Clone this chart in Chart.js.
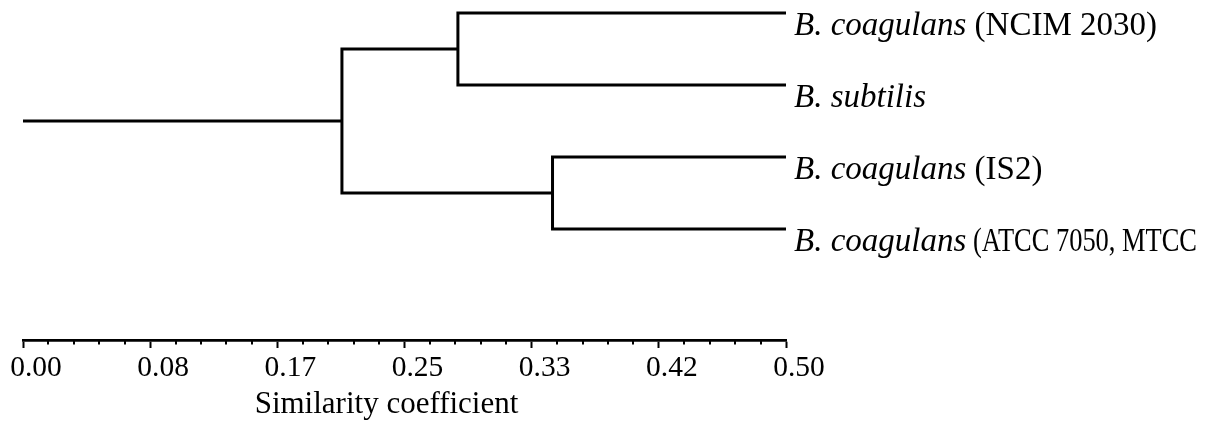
<!DOCTYPE html>
<html><head><meta charset="utf-8">
<script src="https://cdn.jsdelivr.net/npm/chart.js@4/dist/chart.umd.min.js"></script>
<style>html,body{margin:0;padding:0;background:#fff}#wrap{width:1218px;height:425px;position:relative}</style>
</head><body><div id="wrap"><canvas id="c"></canvas></div>
<script>
// ---- data ----
const leafItalic = ['B. coagulans', 'B. subtilis', 'B. coagulans', 'B. coagulans'];
const leafRest = [' (NCIM 2030)', '', ' (IS2)', ' (ATCC 7050, MTCC'];
const leafRows = [4, 3, 2, 1];            // top to bottom
const leafDistance = 0.5;                 // leaves end at the axis max
const mergePairs = [[0, 1], [2, 3], [4, 5]]; // nodes 0-3 leaves, 4.. merges
const mergeLevels = [0.285, 0.347, 0.209];
const rootStart = 0.0;
const tickLabels = ['0.00', '0.08', '0.17', '0.25', '0.33', '0.42', '0.50'];
const axisTitle = 'Similarity coefficient';
const minorPerMajor = 5;

// ---- build segments ----
const nodes = leafRows.map(r => ({x: leafDistance, y: r}));
const datasets = [];
const lineStyle = {showLine: true, borderColor: '#000', borderWidth: 3, pointRadius: 0,
  pointHoverRadius: 0, fill: false, tension: 0, clip: false, borderJoinStyle: 'miter', borderCapStyle: 'butt'};
mergePairs.forEach((p, k) => {
  const a = nodes[p[0]], b = nodes[p[1]], lv = mergeLevels[k];
  nodes.push({x: lv, y: (a.y + b.y) / 2});
  datasets.push(Object.assign({data: [{x: a.x, y: a.y}, {x: lv, y: a.y}, {x: lv, y: b.y}, {x: b.x, y: b.y}]}, lineStyle));
});
const root = nodes[nodes.length - 1];
datasets.push(Object.assign({data: [{x: rootStart, y: root.y}, {x: root.x, y: root.y}]}, lineStyle));

const axMax = 0.5, nMajor = tickLabels.length - 1;
const tickVals = [];
for (let i = 0; i <= nMajor * minorPerMajor; i++) tickVals.push(axMax * i / (nMajor * minorPerMajor));

const serif = "'Liberation Serif', 'Times New Roman', serif";

const extras = {
  id: 'extras',
  afterDraw(chart) {
    const {ctx, scales: {x, y}} = chart;
    ctx.save();
    ctx.fillStyle = '#000';
    ctx.textBaseline = 'alphabetic';
    const textRight = chart.width - 21;
    leafRows.forEach((r, i) => {
      const px = x.getPixelForValue(leafDistance) + 8;
      const py = y.getPixelForValue(r) + 22;
      ctx.font = 'italic 33px ' + serif;
      ctx.fillText(leafItalic[i], px, py);
      const w = ctx.measureText(leafItalic[i]).width;
      ctx.font = '33px ' + serif;
      if (leafRest[i]) ctx.fillText(leafRest[i], px + w, py, textRight - (px + w));
    });
    // axis title
    ctx.font = '31px ' + serif;
    ctx.textAlign = 'center';
    ctx.fillText(axisTitle, (x.left + x.right) / 2 - 18, 413);
    // minor ticks
    const yb = chart.chartArea.bottom;
    ctx.strokeStyle = '#000';
    ctx.lineWidth = 2;
    tickVals.forEach((v, i) => {
      if (i % minorPerMajor === 0) return;
      const px = Math.round(x.getPixelForValue(v));
      ctx.beginPath(); ctx.moveTo(px, yb); ctx.lineTo(px, yb + 4.5); ctx.stroke();
    });
    ctx.restore();
  }
};

new Chart(document.getElementById('c'), {
  type: 'scatter',
  data: {datasets},
  options: {
    responsive: true, maintainAspectRatio: false, animation: false,
    layout: {padding: {left: 23, right: 432, top: 0, bottom: 0}},
    plugins: {legend: {display: false}, tooltip: {enabled: false}},
    events: [],
    scales: {
      x: {
        type: 'linear', position: 'bottom', min: 0, max: axMax,
        afterBuildTicks: s => { s.ticks = tickVals.map(v => ({value: v})); },
        afterFit: s => { s.paddingLeft = 0; s.paddingRight = 0; s.height = 85; },
        ticks: {
          autoSkip: false, maxRotation: 0, minRotation: 0, padding: 3, color: '#000',
          labelOffset: 13,
          font: {family: serif, size: 29.5},
          callback: (v, i) => (i % minorPerMajor === 0 ? tickLabels[i / minorPerMajor] : '')
        },
        grid: {
          drawOnChartArea: false, drawTicks: true, tickLength: 8, tickWidth: 2,
          tickColor: c => (c.index % minorPerMajor === 0 ? '#000' : 'rgba(0,0,0,0)')
        },
        border: {display: true, color: '#000', width: 2.7},
        title: {display: false, text: axisTitle}
      },
      y: {type: 'linear', display: false, min: -0.5417, max: 4.1806}
    }
  },
  plugins: [extras]
});
</script></body></html>
